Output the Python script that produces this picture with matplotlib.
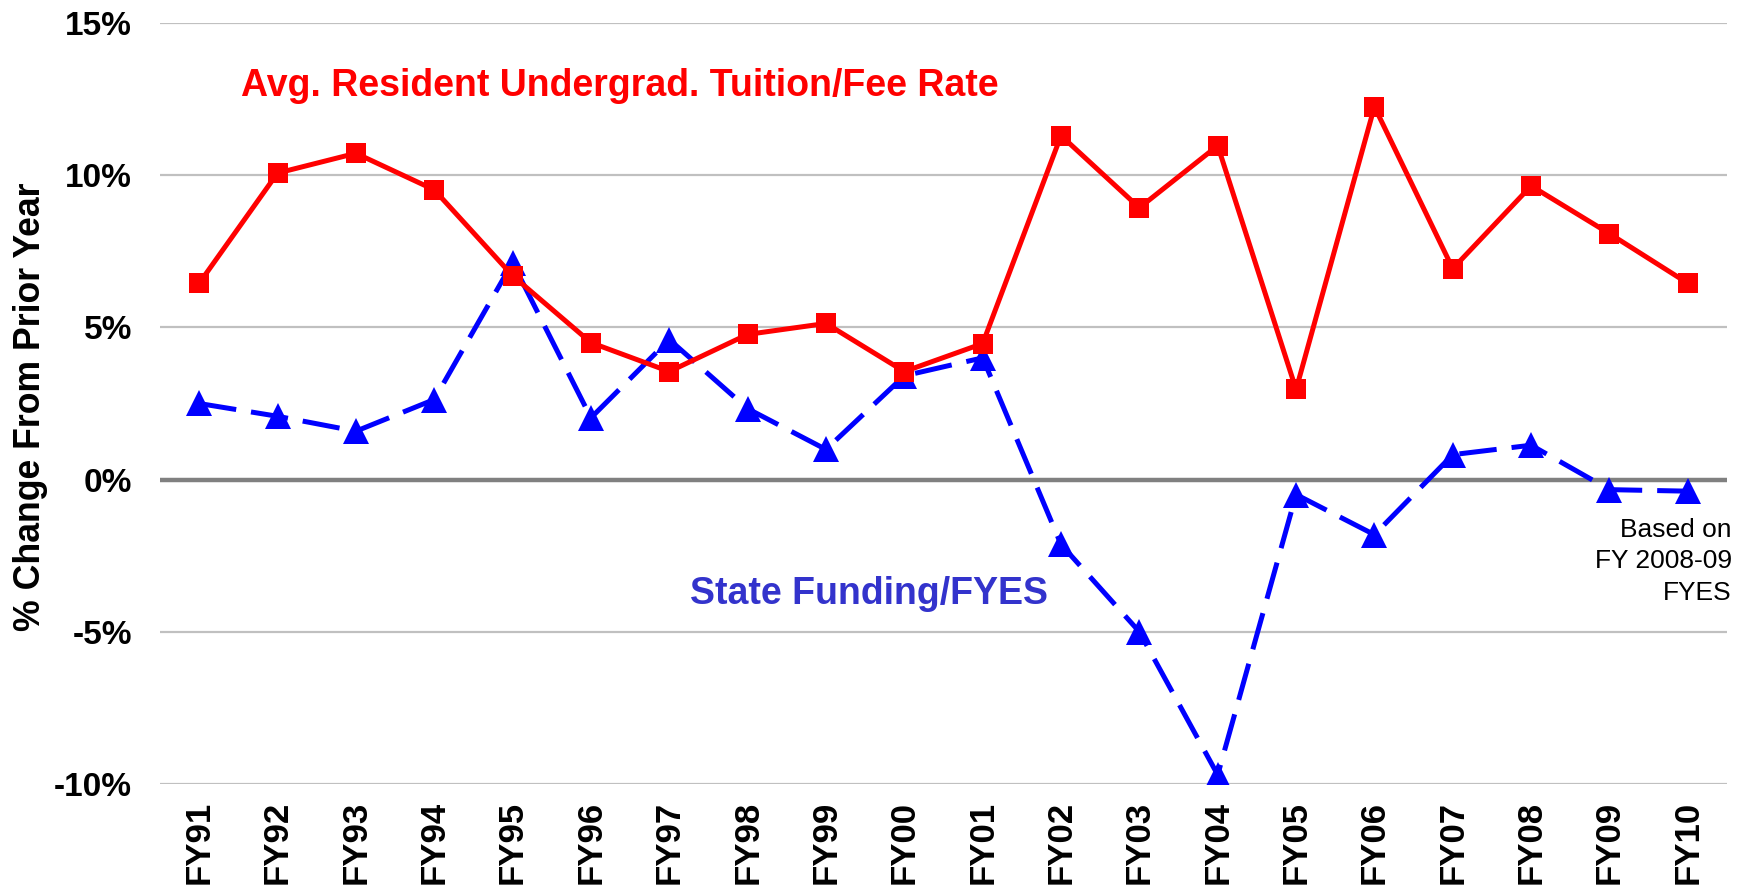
import matplotlib
matplotlib.use("Agg")
import matplotlib.pyplot as plt

years = ["FY91", "FY92", "FY93", "FY94", "FY95", "FY96", "FY97", "FY98", "FY99", "FY00",
         "FY01", "FY02", "FY03", "FY04", "FY05", "FY06", "FY07", "FY08", "FY09", "FY10"]
tuition = [6.45, 10.07, 10.72, 9.52, 6.7, 4.5, 3.55, 4.77, 5.13, 3.55,
           4.47, 11.3, 8.93, 10.97, 2.96, 12.25, 6.93, 9.65, 8.08, 6.45]
funding = [2.5, 2.08, 1.59, 2.63, 7.13, 2.03, 4.6, 2.33, 0.99, 3.41,
           4.0, -2.13, -5.0, -9.7, -0.49, -1.81, 0.82, 1.13, -0.33, -0.38]
yticks = [-10, -5, 0, 5, 10, 15]
ytick_labels = ["-10%", "-5%", "0%", "5%", "10%", "15%"]

plt.rcParams['font.family'] = ['Liberation Sans', 'DejaVu Sans']

W, H = 1750, 889
fig = plt.figure(figsize=(W / 100, H / 100), dpi=100)
ax = fig.add_axes([160 / W, 1 - 784 / H, (1727 - 160) / W, (784 - 23) / H])

x = list(range(len(years)))

for t in yticks:
    if t == 0:
        ax.axhline(t, color='#808080', lw=3.2, zorder=1, solid_capstyle='round')
    else:
        ax.axhline(t, color='#C0C0C0', lw=1.6, zorder=1)

ax.plot(x, funding, color='#0000FF', lw=3.6, linestyle=(0, (7.5, 3)),
        marker='^', markersize=18.5, markeredgewidth=0, zorder=3)
ax.plot(x, tuition, color='#FF0000', lw=3.6, marker='s', markersize=14.8,
        markeredgewidth=0, zorder=4)

ax.set_xlim(-0.5, len(years) - 0.5)
ax.set_ylim(-10, 15)
ax.set_yticks(yticks)
ax.set_yticklabels(ytick_labels, fontsize=24, fontweight='bold')
ax.set_xticks(x)
ax.set_xticklabels(years, rotation=90, fontsize=25, fontweight='bold')
ax.tick_params(axis='both', length=0)
ax.tick_params(axis='y', pad=20)
ax.tick_params(axis='x', pad=12)
for s in ax.spines.values():
    s.set_visible(False)

ax.set_ylabel("% Change From Prior Year", fontsize=25.7, fontweight='bold')
ax.yaxis.set_label_coords(48 / W, 1 - 407 / H, transform=fig.transFigure)

ax.text(0.53, 12.6, "Avg. Resident Undergrad. Tuition/Fee Rate", color='#FF0000',
        fontsize=27, fontweight='bold', ha='left', va='baseline')
ax.text(6.27, -4.08, "State Funding/FYES", color='#3333CC',
        fontsize=27, fontweight='bold', ha='left', va='baseline')
ax.text(1.003, -1.25, "Based on\nFY 2008-09\nFYES", transform=ax.get_yaxis_transform(),
        fontsize=19, ha='right', va='top', multialignment='right', linespacing=1.4)

fig.savefig("out.png", dpi=100)
